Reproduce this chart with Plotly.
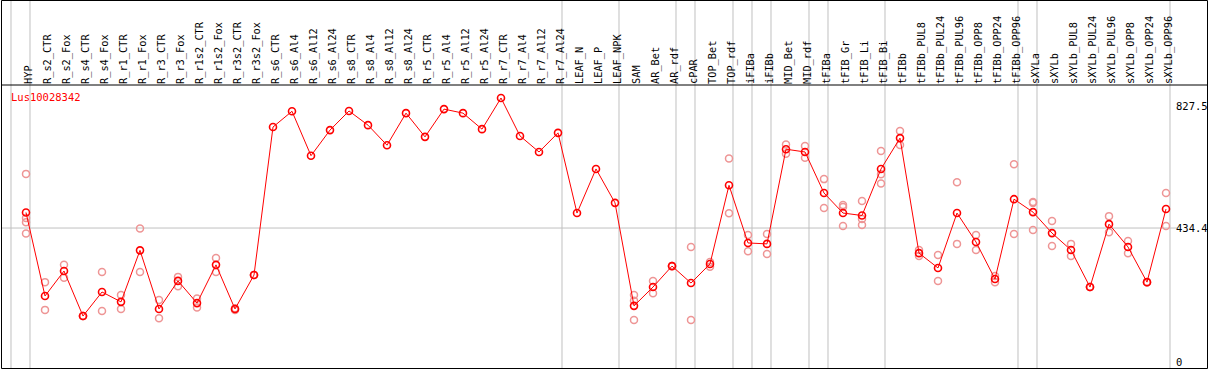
import plotly.graph_objects as go

categories = [
    "HYP", "R_s2_CTR", "R_s2_Fox", "R_s4_CTR", "R_s4_Fox", "R_r1_CTR", "R_r1_Fox",
    "R_r3_CTR", "R_r3_Fox", "R_r1s2_CTR", "R_r1s2_Fox", "R_r3s2_CTR", "R_r3s2_Fox",
    "R_s6_CTR", "R_s6_Al4", "R_s6_Al12", "R_s6_Al24", "R_s8_CTR", "R_s8_Al4", "R_s8_Al12",
    "R_s8_Al24", "R_r5_CTR", "R_r5_Al4", "R_r5_Al12", "R_r5_Al24", "R_r7_CTR", "R_r7_Al4",
    "R_r7_Al12", "R_r7_Al24", "LEAF_N", "LEAF_P", "LEAF_NPK", "SAM", "AR_Bet", "AR_rdf",
    "cPAR", "TOP_Bet", "TOP_rdf", "iFIBa", "iFIBb", "MID_Bet", "MID_rdf", "tFIBa",
    "tFIB_Gr", "tFIB_Li", "tFIB_Bi", "tFIBb", "tFIBb_PUL8", "tFIBb_PUL24", "tFIBb_PUL96",
    "tFIBb_OPP8", "tFIBb_OPP24", "tFIBb_OPP96", "sXYLa", "sXYLb", "sXYLb_PUL8",
    "sXYLb_PUL24", "sXYLb_PUL96", "sXYLb_OPP8", "sXYLb_OPP24", "sXYLb_OPP96",
]

means = [
    485, 214, 295, 149, 227, 195, 362, 172, 263, 191, 315, 172, 282,
    762, 813, 669, 752, 814, 768, 703, 807, 730, 820, 807, 755, 856, 733, 681, 743,
    483, 626, 516, 182, 243, 311, 256, 318, 573, 386, 383, 690, 681, 548,
    483, 475, 626, 726, 353, 305, 483, 389, 269, 528, 486, 418, 363,
    243, 447, 373, 259, 496,
]

replicates = [
    [610, 467, 453, 417], [259, 169], [315, 273], [149, 149], [292, 165], [217, 172],
    [433, 292], [201, 142], [276, 246], [206, 177], [337, 292], [169, 174], [282, 282],
    [], [], [], [], [], [], [], [], [], [], [], [], [], [], [], [],
    [], [], [], [217, 199, 136], [263, 223], [311, 311], [373, 136], [324, 309],
    [660, 482], [412, 359], [415, 350], [705, 675], [700, 662], [593, 499],
    [509, 503, 441], [522, 464, 444], [684, 609, 579], [749, 704], [363, 344],
    [347, 263], [583, 383], [412, 363], [279, 259], [641, 415], [519, 516, 428],
    [457, 376], [383, 344], [243, 243], [473, 421], [392, 353], [259, 259], [548, 441],
]

# index of the last category in each group (group separators drawn after it)
group_ends = [-1, 0, 28, 31, 34, 35, 37, 38, 39, 41, 42, 45, 52, 53, 60]

y_ticks = [0, 434.4, 827.5]
y_tick_labels = ["0", "434.4", "827.5"]
gene = "Lus10028342"

W, H = 1209, 370
ML, MR, MT, MB = 0, 34, 85, 1
PW, PH = W - ML - MR, H - MT - MB
FONT = "DejaVu Sans Mono"

xs = list(range(len(categories)))
rx, ry = [], []
for i, reps in enumerate(replicates):
    for r in reps:
        rx.append(i)
        ry.append(r)

fig = go.Figure()
fig.add_trace(go.Scatter(
    x=rx, y=ry, mode="markers", hoverinfo="skip",
    marker=dict(symbol="circle-open", size=7, color="#EE9595", line=dict(width=1.5)),
))
fig.add_trace(go.Scatter(
    x=xs, y=means, mode="lines+markers",
    line=dict(color="#FF0000", width=1),
    marker=dict(symbol="circle-open", size=7, color="#FF0000", line=dict(width=1.6)),
))

shapes = []
for k in group_ends:
    shapes.append(dict(type="line", xref="x", yref="paper", x0=k + 0.21, x1=k + 0.21,
                       y0=0, y1=1 + MT / PH, line=dict(color="#C0C0C0", width=1), layer="below"))
shapes.append(dict(type="line", xref="paper", yref="y", x0=1 / PW, x1=1177 / PW,
                   y0=y_ticks[1], y1=y_ticks[1], line=dict(color="#C0C0C0", width=1), layer="below"))
# frame
shapes.append(dict(type="rect", xref="paper", yref="paper", x0=1.5 / PW, x1=(W - 1.5) / PW,
                   y0=0.5 / PH, y1=(PH + MT - 0.5) / PH, line=dict(color="black", width=1)))
shapes.append(dict(type="line", xref="paper", yref="paper", x0=1.5 / PW, x1=(W - 1.5) / PW,
                   y0=1, y1=1, line=dict(color="black", width=1)))

fig.update_layout(
    width=W, height=H,
    margin=dict(l=ML, r=MR, t=MT, b=MB, pad=0, autoexpand=False),
    plot_bgcolor="white", paper_bgcolor="white",
    showlegend=False,
    shapes=shapes,
    annotations=[dict(text=gene, xref="paper", yref="paper", x=9 / PW, y=(PH - 12) / PH,
                      xanchor="left", yanchor="middle", showarrow=False,
                      font=dict(family=FONT, size=10.5, color="#FF0000"))],
    xaxis=dict(
        side="top", range=[-26 / 19, (PW - 26) / 19], automargin=False,
        tickmode="array", tickvals=xs, ticktext=categories, tickangle=-90,
        ticklabelshift=3,
        tickfont=dict(family=FONT, size=10.3, color="black"),
        showgrid=False, zeroline=False, showline=False, ticks="",
    ),
    yaxis=dict(
        side="right", range=[-22.7, 898.2], automargin=False,
        tickmode="array", tickvals=y_ticks, ticktext=y_tick_labels,
        tickfont=dict(family=FONT, size=10.5, color="black"),
        showgrid=False, zeroline=False, showline=False, ticks="",
    ),
)

fig.write_html("out.html", config={"displayModeBar": False},
               post_script="document.body.style.margin='0px';document.body.style.overflow='hidden';")
